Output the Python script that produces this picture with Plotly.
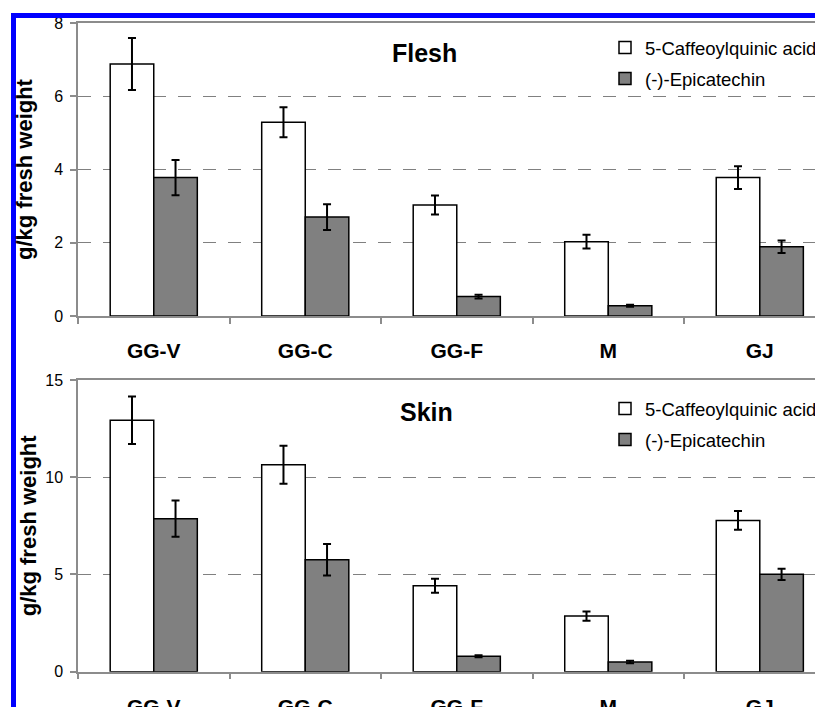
import plotly.graph_objects as go

categories = ["GG-V", "GG-C", "GG-F", "M", "GJ"]
series_names = ["5-Caffeoylquinic acid", "(-)-Epicatechin"]

flesh_cqa = [6.88, 5.29, 3.03, 2.03, 3.78]
flesh_cqa_err = [0.71, 0.41, 0.26, 0.19, 0.31]
flesh_epi = [3.78, 2.70, 0.53, 0.28, 1.89]
flesh_epi_err = [0.48, 0.35, 0.05, 0.03, 0.17]

skin_cqa = [12.93, 10.64, 4.42, 2.86, 7.78]
skin_cqa_err = [1.22, 0.98, 0.36, 0.24, 0.48]
skin_epi = [7.87, 5.76, 0.79, 0.50, 5.01]
skin_epi_err = [0.93, 0.81, 0.05, 0.06, 0.29]

W, H = 823, 707
OFF = 8  # page body margin
FONT = "Liberation Sans, Arial, sans-serif"
GRAY = "#808080"
AX = "#8c8c8c"

def px_x(p):
    return (p - OFF) / W

def px_y(p):
    return 1 - (p - OFF) / H

fig = go.Figure()

fills = ["white", "#808080"]
panels = [
    ("x", "y", "legend", [flesh_cqa, flesh_epi], [flesh_cqa_err, flesh_epi_err]),
    ("x2", "y2", "legend2", [skin_cqa, skin_epi], [skin_cqa_err, skin_epi_err]),
]
for xa, ya, lg, vals, errs in panels:
    for i in range(2):
        fig.add_trace(go.Bar(
            x=categories, y=vals[i], name=series_names[i],
            xaxis=xa, yaxis=ya, legend=lg, legendgroup=lg + str(i),
            marker=dict(color=fills[i], line=dict(color="black", width=1.5)),
            error_y=dict(type="data", array=errs[i], color="black",
                         thickness=2, width=4),
        ))

xcommon = dict(
    type="category", range=[-0.5, 4.47], tickson="boundaries",
    ticks="outside", ticklen=6, tickcolor=AX, tickwidth=1.5,
    showline=True, linecolor=AX, linewidth=1.5, mirror=True,
    showgrid=False, zeroline=False, automargin=False,
    tickfont=dict(family=FONT, size=21, color="black", weight="bold"),
    ticklabelstandoff=15,
)
ycommon = dict(
    ticks="outside", ticklen=6, tickcolor=AX, tickwidth=1.5,
    showline=True, linecolor=AX, linewidth=1.5,
    showgrid=True, gridcolor=GRAY, gridwidth=1.2, griddash="13px,12px",
    zeroline=False, automargin=False,
    tickfont=dict(family=FONT, size=16, color="black"),
    ticklabelstandoff=4,
)

fig.update_layout(
    width=W, height=H,
    margin=dict(l=0, r=0, t=0, b=0),
    paper_bgcolor="white", plot_bgcolor="white",
    barmode="group", bargap=0.425, bargroupgap=0,
    xaxis=dict(domain=[px_x(78), 1], anchor="y", **xcommon),
    xaxis2=dict(domain=[px_x(78), 1], anchor="y2", **xcommon),
    yaxis=dict(domain=[px_y(316), px_y(23)], anchor="x", range=[0, 8], dtick=2,
               title=dict(text="g/kg fresh weight", standoff=15,
                          font=dict(family=FONT, size=22, color="black", weight="bold")),
               **ycommon),
    yaxis2=dict(domain=[px_y(671.7), px_y(380)], anchor="x2", range=[0, 15], dtick=5,
                title=dict(text="g/kg fresh weight", standoff=3,
                           font=dict(family=FONT, size=22, color="black", weight="bold")),
                **ycommon),
    legend=dict(x=px_x(605), y=px_y(29), xanchor="left", yanchor="top",
                font=dict(family=FONT, size=18.5, color="black"),
                bgcolor="rgba(0,0,0,0)", traceorder="grouped", tracegroupgap=4),
    legend2=dict(x=px_x(605), y=px_y(390), xanchor="left", yanchor="top",
                 font=dict(family=FONT, size=18.5, color="black"),
                 bgcolor="rgba(0,0,0,0)", traceorder="grouped", tracegroupgap=4),
    annotations=[
        dict(text="Flesh", x=px_x(425), y=px_y(53), xref="paper", yref="paper",
             xanchor="center", yanchor="middle", showarrow=False,
             font=dict(family=FONT, size=25, color="black", weight="bold")),
        dict(text="Skin", x=px_x(426), y=px_y(412), xref="paper", yref="paper",
             xanchor="center", yanchor="middle", showarrow=False,
             font=dict(family=FONT, size=25, color="black", weight="bold")),
    ],
    shapes=[
        dict(type="rect", xref="paper", yref="paper", x0=px_x(11), x1=1.02,
             y0=px_y(18), y1=px_y(13), fillcolor="#0000ff", line=dict(width=0), layer="above"),
        dict(type="rect", xref="paper", yref="paper", x0=px_x(11), x1=px_x(16),
             y0=-0.02, y1=px_y(13), fillcolor="#0000ff", line=dict(width=0), layer="above"),
    ],
)

fig.write_html("out.html")
